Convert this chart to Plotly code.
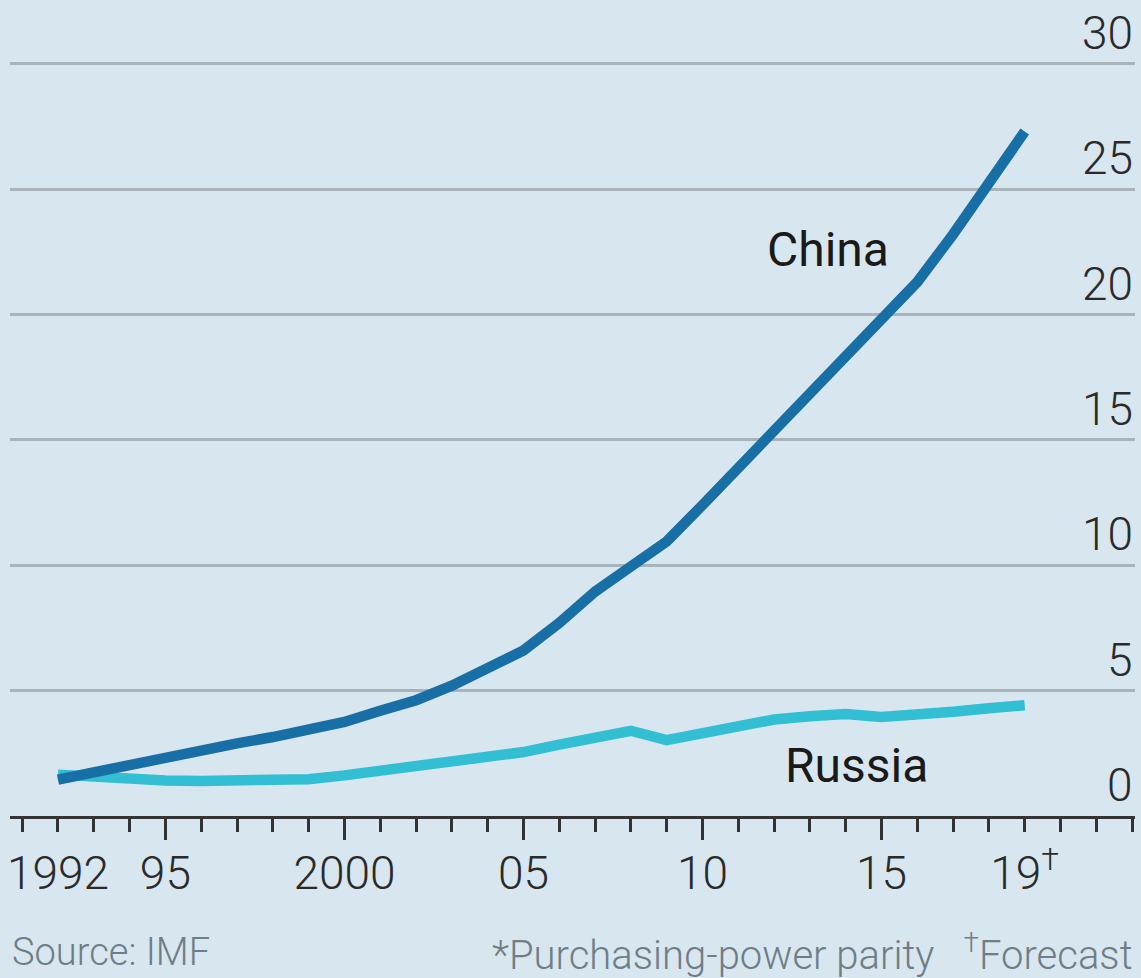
import plotly.graph_objects as go

years = list(range(1992, 2020))
china = [1.45, 1.75, 2.1, 2.35, 2.6, 2.9, 3.15, 3.4, 3.75, 4.2, 4.62, 5.2, 5.85, 6.6,
         7.7, 8.95, 9.95, 10.95, 12.4, 13.9, 15.3, 16.8, 18.4, 19.9, 21.3, 23.2, 25.2, 27.3]
russia = [1.65, 1.55, 1.45, 1.42, 1.4, 1.42, 1.35, 1.47, 1.62, 1.8, 1.95, 2.12, 2.35, 2.55,
          2.85, 3.15, 3.4, 3.03, 3.3, 3.6, 3.85, 3.98, 4.07, 3.95, 4.03, 4.16, 4.3, 4.42]

label_years = [1992, 1995, 2000, 2005, 2010, 2015, 2019]
label_text = ["1992", "95", "2000", "05", "10", "15", "19<sup>†</sup>"]
major_ticks = [1995, 2000, 2005, 2010, 2015]
y_ticks = [0, 5, 10, 15, 20, 25, 30]

BG = "#d8e6ef"
FONT = "Roboto"
TXT = "#2a2a2a"

fig = go.Figure()
fig.add_trace(go.Scatter(x=years, y=russia, mode="lines",
                         line=dict(color="#33bfd3", width=10.5), showlegend=False))
fig.add_trace(go.Scatter(x=years, y=china, mode="lines",
                         line=dict(color="#186fa5", width=10.5), showlegend=False))
# invisible trace for label axis
fig.add_trace(go.Scatter(x=[1992, 2019], y=[0, 0], xaxis="x2", mode="lines",
                         line=dict(width=0), hoverinfo="skip", showlegend=False))

fig.add_annotation(x=2013.5, y=22.6, text="China", showarrow=False,
                   font=dict(family=FONT, size=48, color="#1a1a1a"))
fig.add_annotation(x=2014.3, y=2.0, text="Russia", showarrow=False,
                   font=dict(family=FONT, size=48, color="#1a1a1a"))

# y-axis labels sit above their gridlines on the right
for v in y_ticks:
    fig.add_annotation(xref="paper", x=1, y=v, xanchor="right", yanchor="bottom",
                       yshift=2, text=str(v), showarrow=False,
                       font=dict(family=FONT, size=46, color=TXT, weight=300))

fig.add_annotation(xref="paper", yref="paper", x=0, y=-0.171, xanchor="left", yanchor="middle",
                   text="Source: IMF", showarrow=False,
                   font=dict(family=FONT, size=38, color="#6f7d86", weight=300))
fig.add_annotation(xref="paper", yref="paper", x=1, y=-0.171, xanchor="right", yanchor="middle",
                   text="*Purchasing-power parity   <sup>†</sup>Forecast", showarrow=False,
                   font=dict(family=FONT, size=40, color="#6f7d86", weight=300))

xr = [1990.66, 2022.08]
fig.update_layout(
    width=1141, height=978,
    paper_bgcolor=BG, plot_bgcolor=BG,
    margin=dict(l=10, r=6, t=20, b=162),
    xaxis=dict(range=xr, showgrid=False, zeroline=False,
               showline=True, linecolor="#333333", linewidth=3,
               tickmode="array", tickvals=major_ticks, showticklabels=False,
               ticks="outside", ticklen=21, tickwidth=3, tickcolor="#333333",
               minor=dict(dtick=1, tick0=1992, ticks="outside", ticklen=13,
                          tickwidth=3, tickcolor="#333333", showgrid=False),
               fixedrange=True),
    xaxis2=dict(range=xr, overlaying="x", anchor="y", side="bottom",
                showgrid=False, zeroline=False, showline=False,
                tickmode="array", tickvals=label_years, ticktext=label_text,
                ticks="", ticklabelstandoff=26,
                tickfont=dict(family=FONT, size=46, color=TXT, weight=300)),
    yaxis=dict(range=[0, 31.75], side="right", showgrid=True, gridcolor="#a8b3ba",
               gridwidth=2.5, zeroline=False,
               tickmode="array", tickvals=y_ticks, showticklabels=False, ticks=""),
)

fig.write_html("out.html", config={"displayModeBar": False},
               post_script="document.body.style.margin='0';document.body.style.padding='0';")
